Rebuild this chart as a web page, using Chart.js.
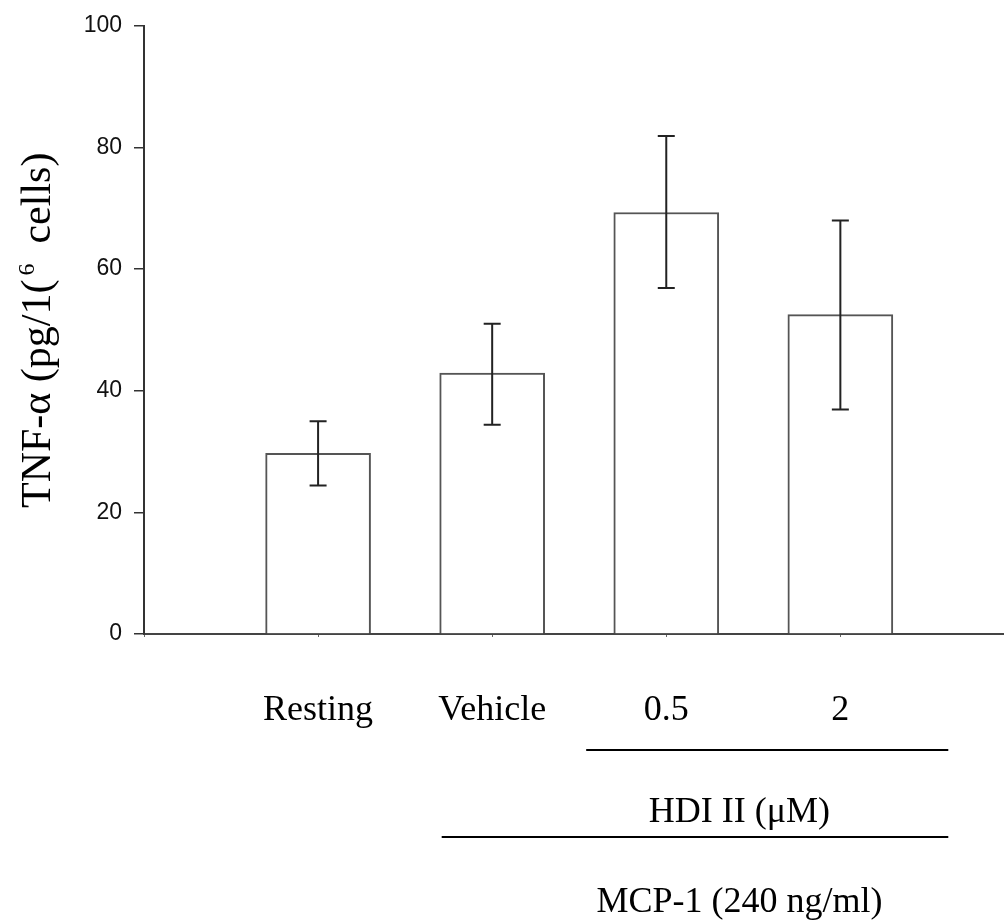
<!DOCTYPE html>
<html>
<head>
<meta charset="utf-8">
<script src="https://cdn.jsdelivr.net/npm/chart.js@4/dist/chart.umd.min.js"></script>
<style>
    html, body { margin: 0; padding: 0; background: #fff; }
    #wrap { width: 1004px; height: 922px; }
</style>
</head>
<body>
<div id="wrap"><canvas id="chart"></canvas></div>
<script>
    // data
    var categories = ['Resting', 'Vehicle', '0.5', '2'];
    var positions = [1, 2, 3, 4];
    var means = [29.7, 42.9, 69.3, 52.5];
    var errLow = [24.4, 34.4, 56.9, 36.9];
    var errHigh = [35.0, 51.0, 81.9, 68.0];
    var yTicks = [0, 20, 40, 60, 80, 100];

    // grouping brackets under the x axis
    var groupLabels = ['HDI II (\u03bcM)', 'MCP-1 (240 ng/ml)'];
    var groupFrom = [2.54, 1.71];
    var groupTo = [4.62, 4.62];

    var serif = "'Liberation Serif', 'Times New Roman', serif";

    var errorBars = {
        id: 'errorBars',
        afterDatasetsDraw: function (chart) {
            var ctx = chart.ctx, x = chart.scales.x, y = chart.scales.y;
            ctx.save();
            ctx.strokeStyle = '#222';
            ctx.lineWidth = 2;
            positions.forEach(function (p, i) {
                var px = x.getPixelForValue(p);
                var lo = y.getPixelForValue(errLow[i]);
                var hi = y.getPixelForValue(errHigh[i]);
                ctx.beginPath();
                ctx.moveTo(px, lo); ctx.lineTo(px, hi);
                ctx.moveTo(px - 8.5, lo); ctx.lineTo(px + 8.5, lo);
                ctx.moveTo(px - 8.5, hi); ctx.lineTo(px + 8.5, hi);
                ctx.stroke();
            });
            ctx.restore();
        }
    };

    var annotations = {
        id: 'annotations',
        afterDraw: function (chart) {
            var ctx = chart.ctx, x = chart.scales.x;
            ctx.save();
            ctx.fillStyle = '#000';
            ctx.strokeStyle = '#000';
            ctx.textAlign = 'center';
            ctx.textBaseline = 'alphabetic';

            // category labels
            ctx.font = '36px ' + serif;
            categories.forEach(function (c, i) {
                ctx.fillText(c, x.getPixelForValue(positions[i]), 720);
            });

            // group lines + labels
            var lineY = [750, 837];
            var textY = [822, 912];
            ctx.lineWidth = 2;
            groupLabels.forEach(function (g, i) {
                ctx.beginPath();
                ctx.moveTo(x.getPixelForValue(groupFrom[i]), lineY[i]);
                ctx.lineTo(x.getPixelForValue(groupTo[i]), lineY[i]);
                ctx.stroke();
                ctx.fillText(g, x.getPixelForValue(3.42), textY[i]);
            });

            // y axis title, rotated
            ctx.translate(50, 508);
            ctx.rotate(-Math.PI / 2);
            ctx.textAlign = 'left';
            ctx.font = '42px ' + serif;
            var part1 = 'TNF-\u03b1 (pg/1(';
            ctx.fillText(part1, 0, 0);
            var w = ctx.measureText(part1).width;
            ctx.font = '24px ' + serif;
            ctx.fillText('6', w + 4, -16);
            w += 4 + ctx.measureText('6').width;
            ctx.font = '42px ' + serif;
            ctx.fillText('cells)', w + 20, 0);
            ctx.restore();
        }
    };

    new Chart(document.getElementById('chart'), {
        type: 'bar',
        data: {
            datasets: [{
                data: positions.map(function (p, i) { return { x: p, y: means[i] }; }),
                backgroundColor: '#fff',
                borderColor: '#555',
                borderWidth: 2,
                barThickness: 105
            }]
        },
        options: {
            responsive: true,
            maintainAspectRatio: false,
            animation: false,
            layout: { padding: { top: 25, left: 0, right: 0, bottom: 0 } },
            plugins: {
                legend: { display: false },
                tooltip: { enabled: false }
            },
            scales: {
                x: {
                    type: 'linear',
                    min: 0,
                    max: 4.94,
                    offset: false,
                    ticks: { stepSize: 1, display: false },
                    grid: { display: true, offset: false, drawOnChartArea: false, drawTicks: true, tickLength: 3, color: '#666' },
                    border: { display: true, color: '#444', width: 2 },
                    afterFit: function (s) { s.height = 288; }
                },
                y: {
                    min: 0,
                    max: 100,
                    afterBuildTicks: function (s) {
                        s.ticks = yTicks.map(function (v) { return { value: v }; });
                    },
                    ticks: {
                        color: '#111',
                        padding: 12,
                        font: { family: "'Liberation Sans', Arial, sans-serif", size: 23 }
                    },
                    grid: { display: true, drawOnChartArea: false, tickLength: 10, color: '#333', lineWidth: 1.5 },
                    border: { display: true, color: '#333', width: 2 },
                    afterFit: function (s) { s.width = 144; }
                }
            }
        },
        plugins: [errorBars, annotations]
    });
</script>
</body>
</html>
